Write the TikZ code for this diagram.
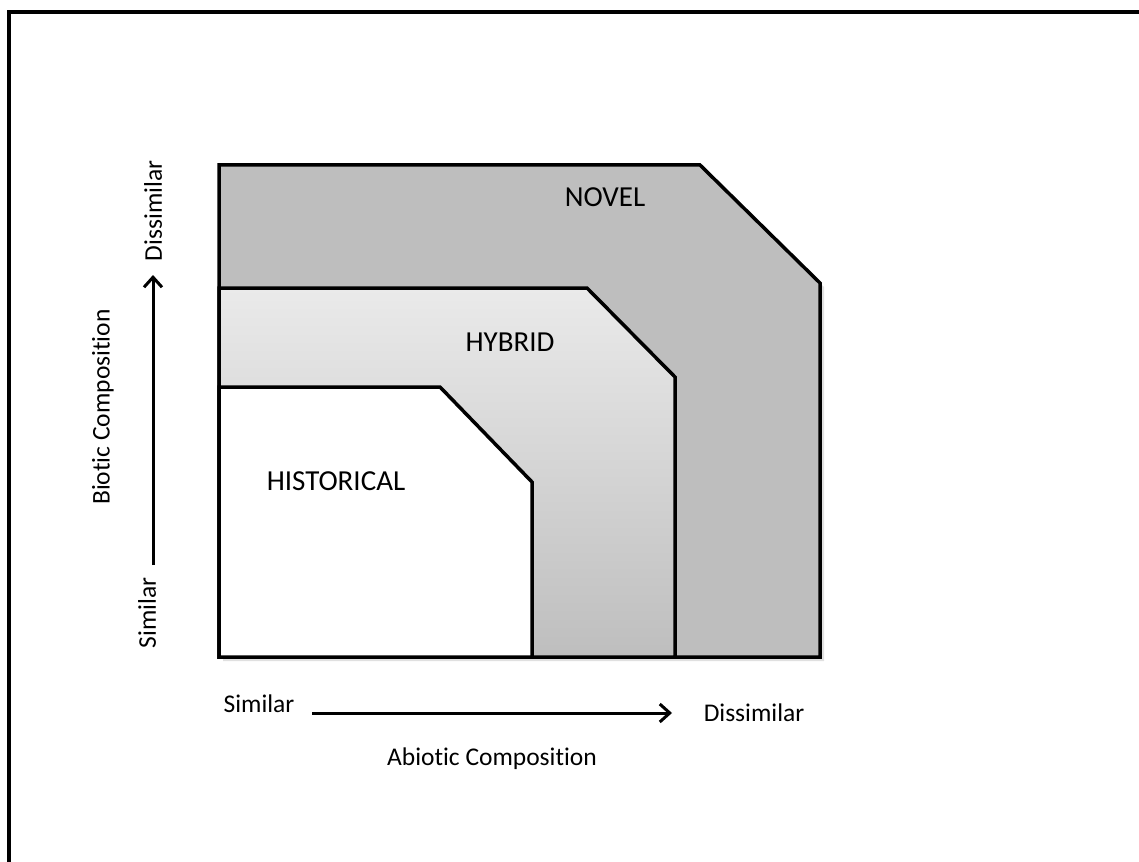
\documentclass[tikz,border=0pt]{standalone}
\usepackage{fontspec}
\setmainfont{Carlito}[Ligatures=NoCommon]
\usetikzlibrary{arrows.meta}
\definecolor{novelgray}{RGB}{190,190,190}
\definecolor{hybtop}{RGB}{234,234,234}
\definecolor{hybbot}{RGB}{190,190,190}

\begin{document}
\begin{tikzpicture}[x=1pt,y=-1pt,
  region/.style={line width=3.5pt,line join=miter},
  axisarrow/.style={line width=3pt,-{Straight Barb[length=10pt,width=18pt,line width=3pt]}},
  biglabel/.style={font=\fontsize{29}{33}\selectfont},
  axislabel/.style={font=\fontsize{25.5}{30}\selectfont}]
\useasboundingbox (0,0) rectangle (1139,861);
\clip (0,0) rectangle (1139,861);
% outside frame
\draw[line width=4pt] (9,900) -- (9,12) -- (1200,12);
% shadow
\fill[black,opacity=0.12] (223,169) -- (704,169) -- (824,287) -- (824,661) -- (223,661) -- cycle;
% regions
\draw[region,fill=novelgray] (219,165) -- (700,165) -- (820,283) -- (820,657) -- (219,657) -- cycle;
\draw[region,top color=hybtop,bottom color=hybbot] (219,288) -- (587,288) -- (675,377) -- (675,657) -- (219,657) -- cycle;
\draw[region,fill=white] (219,387) -- (440,387) -- (532,482) -- (532,657) -- (219,657) -- cycle;
\node[biglabel] (novel) at (605,197) {NOVEL};
\node[biglabel] (hybrid) at (510,342) {HYBRID};
\node[biglabel] (historical) at (336,481) {HISTORICAL};
% bottom axis
\node[axislabel] (simx) at (259,704) {Similar};
\node[axislabel] (disx) at (754,713) {Dissimilar};
\node[axislabel] (abiotic) at (492,759) {Abiotic Composition};
\coordinate (xstart) at (312,713);
\coordinate (xend) at (672,713);
\draw[axisarrow] (xstart) -- (xend);
% left axis
\node[axislabel,rotate=90] (simy) at (147,613) {Similar};
\node[axislabel,rotate=90] (disy) at (153,211) {Dissimilar};
\node[axislabel,rotate=90] (biotic) at (103,407) {Biotic Composition};
\coordinate (ystart) at (153,565);
\coordinate (yend) at (153,275);
\draw[axisarrow] (ystart) -- (yend);
\end{tikzpicture}
\end{document}
